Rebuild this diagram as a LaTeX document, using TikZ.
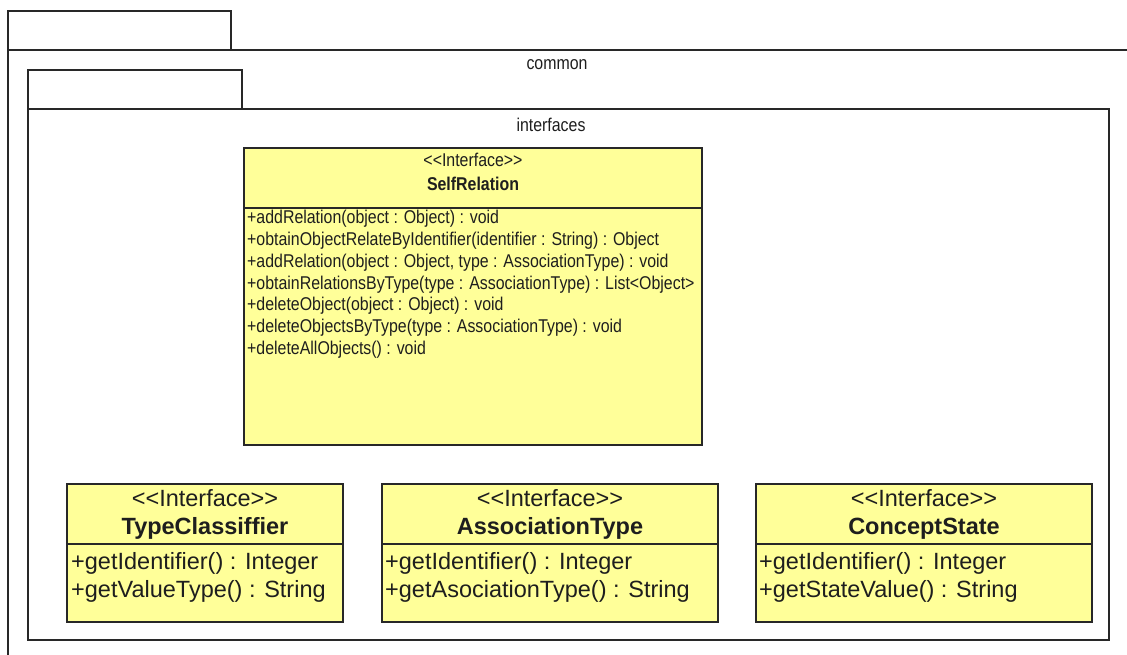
\documentclass[tikz,border=0pt]{standalone}
\usepackage{fontspec}
\newfontfamily\umlface{Liberation Sans}
\newfontfamily\umlnarrow[FakeStretch=0.86]{Liberation Sans}
\definecolor{umlyellow}{RGB}{255,255,153}
\definecolor{umlline}{RGB}{40,40,40}
\definecolor{umltext}{RGB}{30,30,30}
\newcommand{\umlfont}{\umlnarrow\fontsize{18.5}{21.8}\selectfont}
\newcommand{\umlhdrfont}{\umlnarrow\fontsize{18.5}{24}\selectfont}
\newcommand{\umlfontbig}{\umlface\fontsize{23.5}{28}\selectfont}
\begin{document}
\begin{tikzpicture}[x=1pt,y=-1pt,
    pkg/.style={draw=umlline, line width=2pt},
    iface/.style={draw=umlline, fill=umlyellow, line width=2pt},
    lbl/.style={inner sep=0pt, text=umltext, font=\umlfont},
    hdr/.style={align=center, inner sep=0pt, text=umltext, font=\umlhdrfont},
    hdrbig/.style={align=center, inner sep=0pt, text=umltext, font=\umlfontbig},
    ops/.style={align=left, anchor=north west, inner sep=0pt, text=umltext, font=\umlfont},
    opsbig/.style={align=left, anchor=north west, inner sep=0pt, text=umltext, font=\umlfontbig}]
  \useasboundingbox (0,0) rectangle (1127,655);
  \clip (0,0) rectangle (1127,655);
  % packages
  \draw[pkg] (8,11) rectangle (231,50);
  \draw[pkg] (8,50) rectangle (1140,670);
  \draw[pkg] (28,70) rectangle (242,109);
  \draw[pkg] (28,109) rectangle (1109,640);
  \node[lbl] (common) at (557,65) {common};
  \node[lbl] (interfaces) at (551,125) {interfaces};
  % SelfRelation
  \draw[iface] (244,148) rectangle (702,445);
  \draw[pkg] (244,208) -- (702,208);
  \node[hdr] (selfHdr) at (473,172) {<<Interface>>\\\textbf{SelfRelation}};
  \node[ops] (selfOps) at (247,210) {+addRelation(object : Object) : void\\
    +obtainObjectRelateByIdentifier(identifier : String) : Object\\
    +addRelation(object : Object, type : AssociationType) : void\\
    +obtainRelationsByType(type : AssociationType) : List<Object>\\
    +deleteObject(object : Object) : void\\
    +deleteObjectsByType(type : AssociationType) : void\\
    +deleteAllObjects() : void};
  % TypeClassiffier
  \draw[iface] (67,484) rectangle (343,622);
  \draw[pkg] (67,544) -- (343,544);
  \node[hdrbig] (typeHdr) at (205,514) {<<Interface>>\\\textbf{TypeClassiffier}};
  \node[opsbig] (typeOps) at (71,552) {+getIdentifier() : Integer\\+getValueType() : String};
  % AssociationType
  \draw[iface] (382,484) rectangle (718,622);
  \draw[pkg] (382,544) -- (718,544);
  \node[hdrbig] (assocHdr) at (550,514) {<<Interface>>\\\textbf{AssociationType}};
  \node[opsbig] (assocOps) at (385,552) {+getIdentifier() : Integer\\+getAsociationType() : String};
  % ConceptState
  \draw[iface] (756,484) rectangle (1092,622);
  \draw[pkg] (756,544) -- (1092,544);
  \node[hdrbig] (stateHdr) at (924,514) {<<Interface>>\\\textbf{ConceptState}};
  \node[opsbig] (stateOps) at (759,552) {+getIdentifier() : Integer\\+getStateValue() : String};
\end{tikzpicture}
\end{document}
